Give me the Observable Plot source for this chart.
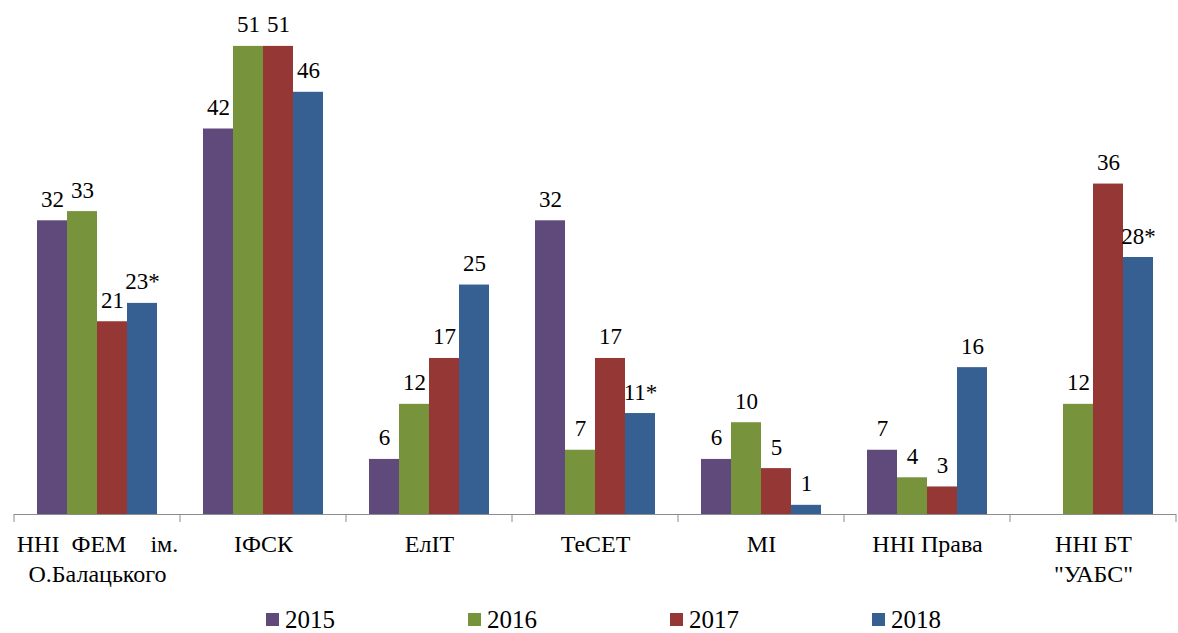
<!DOCTYPE html>
<html>
<head>
<meta charset="utf-8">
<script src="https://cdn.jsdelivr.net/npm/d3@7"></script>
<script src="https://cdn.jsdelivr.net/npm/@observablehq/plot@0.6"></script>
<style>
  body { margin: 0; background: #fff; font-family: "Times New Roman", "Liberation Serif", Tinos, "Noto Serif", "DejaVu Serif", serif; }
  #legend { display: flex; padding-left: 266px; height: 33px; align-items: center; margin-top: 3px; }
  .item { width: 202px; display: flex; align-items: center; font-size: 25px; color: #000; }
  .sw { width: 13px; height: 13px; margin-right: 6px; }
  svg text { font-family: "Times New Roman", "Liberation Serif", Tinos, "Noto Serif", "DejaVu Serif", serif; }
</style>
</head>
<body>
<div id="chart"></div>
<div id="legend"></div>
<script>
const categories = ["ННІ ФЕМ ім. О.Балацького", "ІФСК", "ЕлІТ", "ТеСЕТ", "МІ", "ННІ Права", "ННІ БТ \"УАБС\""];
const categoryLabels = ["ННІ\u00a0\u00a0ФЕМ\u00a0\u00a0\u00a0\u00a0ім.\nО.Балацького", "ІФСК", "ЕлІТ", "ТеСЕТ", "МІ", "ННІ Права", "ННІ БТ\n\"УАБС\""];
const years = ["2015", "2016", "2017", "2018"];
const v2015 = [32, 42, 6, 32, 6, 7, null];
const v2016 = [33, 51, 12, 7, 10, 4, 12];
const v2017 = [21, 51, 17, 17, 5, 3, 36];
const v2018 = [23, 46, 25, 11, 1, 16, 28];
const notes2018 = ["*", "", "", "*", "", "", "*"];
const colors = ["#604A7B", "#77933C", "#953735", "#376092"];

const series = [v2015, v2016, v2017, v2018];
const rows = [];
categories.forEach((c, i) => {
  years.forEach((y, j) => {
    const v = series[j][i];
    if (v == null) return;
    rows.push({cat: c, year: y, value: v, label: String(v) + (j === 3 ? notes2018[i] : "")});
  });
});

const FONT = "'Times New Roman', 'Liberation Serif', Tinos, 'Noto Serif', 'DejaVu Serif', serif";

const plot = Plot.plot({
  width: 1178,
  height: 600,
  marginLeft: 11,
  marginRight: 0,
  marginTop: 0,
  marginBottom: 86,
  style: {fontFamily: FONT, color: "#000", background: "#fff"},
  fx: {domain: categories, padding: 0, axis: null},
  x: {domain: years, paddingInner: 0, paddingOuter: 0.75, axis: null},
  y: {domain: [0, 56], axis: null},
  color: {domain: years, range: colors},
  marks: [
    Plot.barY(rows, {fx: "cat", x: "year", y: "value", fill: "year"}),
    Plot.ruleY([0], {stroke: "#8c8c8c", strokeWidth: 1}),
    Plot.text(rows, {fx: "cat", x: "year", y: "value", text: "label", lineAnchor: "bottom", dy: -14, fontSize: 23, fill: "#000"}),
    Plot.text(categories, {fx: d => d, text: (d, i) => categoryLabels[i], frameAnchor: "bottom", lineAnchor: "top", dy: 16, lineHeight: 1.25, fontSize: 24, fill: "#000"})
  ]
});

// boundary tick marks on the category axis, from the fx scale
const fx = plot.scale("fx");
const y = plot.scale("y");
const y0 = y.apply(0);
const bounds = categories.map(c => fx.apply(c)).concat([fx.apply(categories[categories.length - 1]) + fx.bandwidth]);
d3.select(plot).append("g")
  .attr("stroke", "#8c8c8c")
  .selectAll("line").data(bounds).join("line")
  .attr("x1", d => Math.min(d, 1177.5)).attr("x2", d => Math.min(d, 1177.5))
  .attr("y1", y0).attr("y2", y0 + 8);

document.getElementById("chart").appendChild(plot);

const legend = d3.select("#legend");
years.forEach((yr, j) => {
  const it = legend.append("div").attr("class", "item");
  it.append("div").attr("class", "sw").style("background", colors[j]);
  it.append("span").text(yr);
});
</script>
</body>
</html>
